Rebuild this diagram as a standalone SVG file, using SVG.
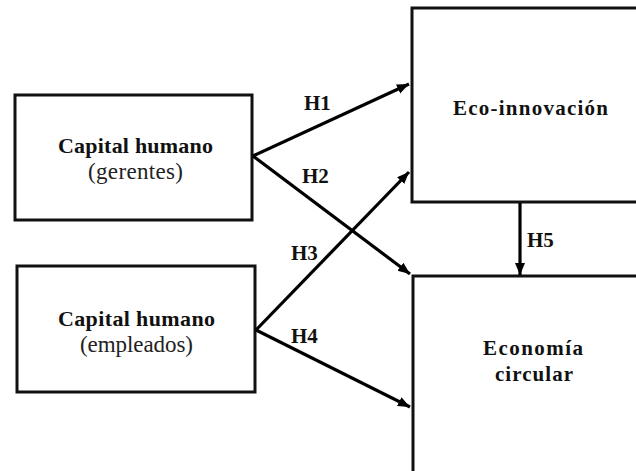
<svg xmlns="http://www.w3.org/2000/svg" width="636" height="471" viewBox="0 0 636 471">
  <style>
    .box { fill: #ffffff; stroke: #111111; stroke-width: 3; }
    .edge { stroke: #000000; stroke-width: 3.2; fill: none; }
    .tb { font-family: "Liberation Serif", "Times New Roman", serif; font-weight: bold; fill: #111111; }
    .tr { font-family: "Liberation Serif", "Times New Roman", serif; fill: #222222; }
    .lbl { font-family: "Liberation Serif", "Times New Roman", serif; font-weight: bold; font-size: 21px; fill: #111111; }
  </style>
  <defs>
    <marker id="arrow" markerUnits="userSpaceOnUse" markerWidth="14" markerHeight="12" refX="12" refY="5" orient="auto">
      <path d="M0,0 L12,5 L0,10 Z" fill="#000000"/>
    </marker>
  </defs>
  <rect width="636" height="471" fill="#ffffff"/>

  <g id="node-gerentes">
    <rect class="box" x="15" y="95" width="237" height="125"/>
    <text class="tb" x="135.5" y="153" font-size="22" text-anchor="middle" textLength="155" lengthAdjust="spacing">Capital humano</text>
    <text class="tr" x="135.5" y="179" font-size="23" text-anchor="middle" textLength="95" lengthAdjust="spacing">(gerentes)</text>
  </g>

  <g id="node-empleados">
    <rect class="box" x="17" y="266" width="238" height="126"/>
    <text class="tb" x="136.5" y="326" font-size="22" text-anchor="middle" textLength="157" lengthAdjust="spacing">Capital humano</text>
    <text class="tr" x="136.5" y="352" font-size="23" text-anchor="middle" textLength="113" lengthAdjust="spacing">(empleados)</text>
  </g>

  <g id="node-eco">
    <rect class="box" x="412" y="8" width="240" height="194"/>
    <text class="tb" x="530.5" y="115" font-size="21" text-anchor="middle" textLength="155" lengthAdjust="spacing">Eco-innovación</text>
  </g>

  <g id="node-circular">
    <rect class="box" x="413" y="276" width="240" height="220"/>
    <text class="tb" x="533" y="355" font-size="21" text-anchor="middle" textLength="100" lengthAdjust="spacing">Economía</text>
    <text class="tb" x="534" y="381" font-size="21" text-anchor="middle" textLength="78" lengthAdjust="spacing">circular</text>
  </g>

  <g id="connectors">
    <line class="edge" x1="253" y1="156" x2="409" y2="84" marker-end="url(#arrow)"/>
    <line class="edge" x1="253" y1="156" x2="410" y2="274" marker-end="url(#arrow)"/>
    <line class="edge" x1="256" y1="330" x2="409" y2="172" marker-end="url(#arrow)"/>
    <line class="edge" x1="256" y1="330" x2="410" y2="407" marker-end="url(#arrow)"/>
    <line class="edge" x1="520" y1="203" x2="520" y2="275" marker-end="url(#arrow)"/>
    <text class="lbl" x="304" y="110">H1</text>
    <text class="lbl" x="302" y="183">H2</text>
    <text class="lbl" x="291" y="260">H3</text>
    <text class="lbl" x="291" y="343">H4</text>
    <text class="lbl" x="527" y="247">H5</text>
  </g>
</svg>
